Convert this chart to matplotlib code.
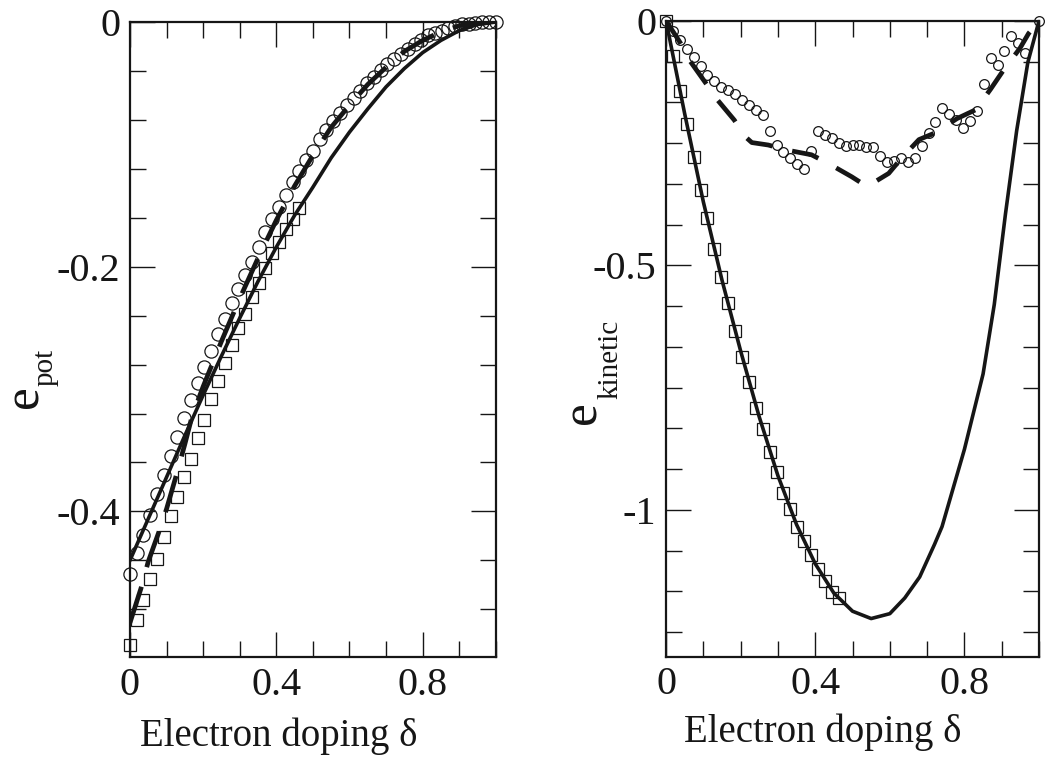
import numpy as np
import matplotlib
matplotlib.use("Agg")
import matplotlib.pyplot as plt
from matplotlib.ticker import MultipleLocator, FuncFormatter

plt.rcParams['font.family'] = ['Liberation Serif', 'DejaVu Serif']
plt.rcParams['axes.unicode_minus'] = False

# doping grid of the symbols
doping = [0.0, 0.0185, 0.037, 0.0556, 0.0741, 0.0926, 0.1111, 0.1296, 0.1481, 0.1667,
          0.1852, 0.2037, 0.2222, 0.2407, 0.2593, 0.2778, 0.2963, 0.3148, 0.3333, 0.3519,
          0.3704, 0.3889, 0.4074, 0.4259, 0.4444, 0.463, 0.4815, 0.5, 0.5185, 0.537,
          0.5556, 0.5741, 0.5926, 0.6111, 0.6296, 0.6481, 0.6667, 0.6852, 0.7037, 0.7222,
          0.7407, 0.7593, 0.7778, 0.7963, 0.8148, 0.8333, 0.8519, 0.8704, 0.8889, 0.9074,
          0.9259, 0.9444, 0.963, 0.9815, 1.0]

# left panel: potential energy
pot_circles = [-0.451, -0.434, -0.419, -0.403, -0.386, -0.370, -0.355, -0.339, -0.324, -0.309,
               -0.295, -0.282, -0.269, -0.255, -0.243, -0.230, -0.218, -0.207, -0.196, -0.184,
               -0.172, -0.161, -0.151, -0.141, -0.131, -0.122, -0.113, -0.105, -0.096, -0.088,
               -0.081, -0.074, -0.068, -0.062, -0.056, -0.050, -0.045, -0.039, -0.034, -0.030,
               -0.026, -0.022, -0.018, -0.015, -0.011, -0.009, -0.007, -0.005, -0.0035, -0.002,
               -0.0012, -0.0006, -0.0002, 0.0, 0.0]
pot_squares = [-0.509, -0.489, -0.472, -0.455, -0.439, -0.421, -0.404, -0.388, -0.372, -0.357,
               -0.340, -0.325, -0.308, -0.293, -0.279, -0.264, -0.250, -0.239, -0.225, -0.213,
               -0.201, -0.189, -0.180, -0.169, -0.161, -0.152]
pot_solid_x = [0.0, 0.05, 0.1, 0.15, 0.2, 0.25, 0.3, 0.35, 0.4, 0.45, 0.5,
               0.55, 0.6, 0.65, 0.7, 0.75, 0.8, 0.85, 0.9, 0.95, 1.0]
pot_solid_y = [-0.440, -0.406, -0.372, -0.338, -0.305, -0.273, -0.242, -0.212, -0.184, -0.158, -0.135,
               -0.111, -0.090, -0.071, -0.053, -0.038, -0.025, -0.015, -0.007, -0.002, 0.0]
pot_dash_x = [0.0, 0.03, 0.05, 0.08, 0.1, 0.13, 0.15, 0.17, 0.2, 0.25, 0.3, 0.35, 0.4,
              0.45, 0.5, 0.55, 0.6, 0.65, 0.7, 0.75, 0.8, 0.85, 0.9, 0.95, 1.0]
pot_dash_y = [-0.491, -0.463, -0.441, -0.416, -0.398, -0.367, -0.345, -0.322, -0.298, -0.261,
              -0.226, -0.193, -0.162, -0.134, -0.109, -0.086, -0.068, -0.051, -0.037, -0.024,
              -0.015, -0.008, -0.003, -0.001, 0.0]

# right panel: kinetic energy
kin_circles = [0.0, -0.021, -0.040, -0.058, -0.074, -0.092, -0.110, -0.123, -0.135, -0.141,
               -0.150, -0.162, -0.173, -0.182, -0.193, -0.225, -0.254, -0.268, -0.280, -0.292,
               -0.304, -0.266, -0.225, -0.233, -0.239, -0.249, -0.257, -0.255, -0.253, -0.259,
               -0.259, -0.277, -0.289, -0.286, -0.281, -0.288, -0.280, -0.256, -0.230, -0.206,
               -0.179, -0.190, -0.202, -0.220, -0.204, -0.185, -0.130, -0.077, -0.091, -0.061,
               -0.031, -0.046, -0.065, np.nan, 0.0]
kin_squares = [0.0, -0.072, -0.143, -0.211, -0.278, -0.345, -0.404, -0.467, -0.523, -0.576,
               -0.634, -0.687, -0.738, -0.791, -0.834, -0.881, -0.923, -0.965, -0.999, -1.034,
               -1.063, -1.093, -1.121, -1.146, -1.167, -1.180]
kin_solid_x = [0.0, 0.05, 0.1, 0.15, 0.2, 0.25, 0.3, 0.35, 0.4, 0.45, 0.5,
               0.55, 0.6, 0.64, 0.68, 0.72, 0.74, 0.77, 0.8, 0.85, 0.88, 0.91, 0.94, 0.97, 1.0]
kin_solid_y = [0.0, -0.190, -0.370, -0.530, -0.675, -0.810, -0.930, -1.030, -1.110, -1.170, -1.207,
               -1.222, -1.212, -1.180, -1.137, -1.070, -1.034, -0.955, -0.876, -0.722, -0.580,
               -0.395, -0.225, -0.085, 0.0]
kin_dash_x = [0.0, 0.039, 0.065, 0.107, 0.137, 0.183, 0.211, 0.230, 0.274, 0.322, 0.390,
              0.436, 0.498, 0.539, 0.597, 0.630, 0.678, 0.722, 0.780, 0.830, 0.870,
              0.902, 0.949, 0.972, 1.0]
kin_dash_y = [0.0, -0.046, -0.083, -0.128, -0.161, -0.203, -0.236, -0.249, -0.254, -0.264, -0.274,
              -0.292, -0.319, -0.339, -0.312, -0.282, -0.243, -0.229, -0.200, -0.182, -0.140,
              -0.104, -0.056, -0.026, 0.0]

INK = '#161616'
W, H = 1054, 760


def tick_fmt(v, pos):
    if abs(v) < 1e-9:
        return '0'
    return f'{v:g}'


def style_axes(ax, ymajor, yminor, ylim):
    ax.set_xlim(0, 1)
    ax.set_ylim(*ylim)
    ax.xaxis.set_major_locator(MultipleLocator(0.4))
    ax.xaxis.set_minor_locator(MultipleLocator(0.1))
    ax.yaxis.set_major_locator(MultipleLocator(ymajor))
    ax.yaxis.set_minor_locator(MultipleLocator(yminor))
    ax.xaxis.set_major_formatter(FuncFormatter(tick_fmt))
    ax.yaxis.set_major_formatter(FuncFormatter(tick_fmt))
    ax.tick_params(which='both', direction='in', top=True, right=True,
                   colors=INK, width=1.0)
    ax.tick_params(which='major', length=18, labelsize=29, pad=7)
    ax.tick_params(which='minor', length=11.5)
    for s in ax.spines.values():
        s.set_linewidth(1.6)
        s.set_color(INK)


def rot_label(x_px, y_px, text, size):
    # rotated text anchored at its baseline start, pixel coords from top-left
    fig.text(x_px / W, 1 - y_px / H, text, rotation=90, rotation_mode='anchor',
             ha='left', va='baseline', fontsize=size, color=INK)


fig = plt.figure(figsize=(W / 100, H / 100), dpi=100)
ax1 = fig.add_axes([0.1233, 0.1355, 0.3471, 0.8355])
ax2 = fig.add_axes([0.6319, 0.1359, 0.3539, 0.8368])

# left panel
ax1.plot(pot_solid_x, pot_solid_y, color=INK, lw=2.6, solid_joinstyle='round')
ax1.plot(pot_dash_x, pot_dash_y, color=INK, lw=3.4, dashes=(8, 4.3), dash_capstyle='butt')
ax1.plot(doping, pot_circles, 'o', ms=9.5, mfc='none', mec=INK, mew=0.9, clip_on=False)
ax1.plot(doping[:len(pot_squares)], pot_squares, 's', ms=8.2, mfc='none', mec=INK, mew=0.9,
         clip_on=False)
style_axes(ax1, 0.2, 0.04, (-0.519, 0))
ax1.set_xlabel('Electron doping δ', fontsize=28, color=INK)
ax1.xaxis.label.set_va('baseline')
ax1.xaxis.set_label_coords(0.407, -0.1397)

# right panel
ax2.plot(kin_solid_x, kin_solid_y, color=INK, lw=2.6, solid_joinstyle='round')
ax2.plot(kin_dash_x, kin_dash_y, color=INK, lw=3.4, dashes=(5.8, 4.3), dash_capstyle='butt')
ax2.plot(doping, kin_circles, 'o', ms=7.0, mfc='none', mec=INK, mew=0.9, clip_on=False)
ax2.plot(doping[:len(kin_squares)], kin_squares, 's', ms=8.8, mfc='none', mec=INK, mew=0.9,
         clip_on=False)
style_axes(ax2, 0.5, 0.5 / 6, (-1.3, 0))
ax2.set_xlabel('Electron doping δ', fontsize=28, color=INK)
ax2.xaxis.label.set_va('baseline')
ax2.xaxis.set_label_coords(0.4196, -0.1335)

# y labels: "e" with a lowered subscript
rot_label(37, 408, 'e', 37)
rot_label(53, 386, 'pot', 21)
rot_label(595, 424, 'e', 37)
rot_label(617, 399, 'kinetic', 21)

fig.savefig('out.png', dpi=100)
